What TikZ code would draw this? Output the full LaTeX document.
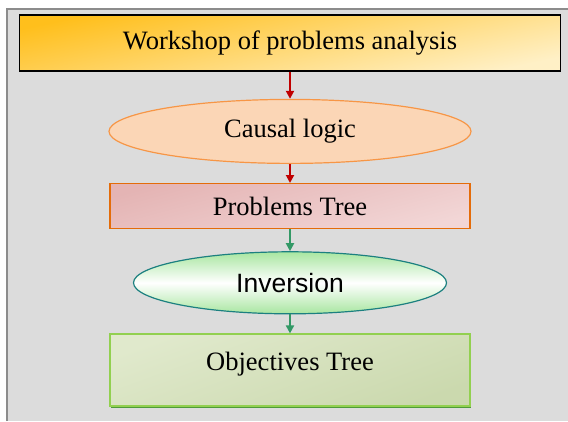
\documentclass[tikz,border=0pt]{standalone}
\usepackage{fontspec}
\setmainfont{Liberation Serif}
\setsansfont{Liberation Sans}
\usetikzlibrary{arrows.meta,positioning,shapes.geometric,shadows}
\definecolor{PanelGray}{HTML}{DCDCDC}
\definecolor{PanelEdge}{HTML}{8C8C8C}
\definecolor{FlowRed}{HTML}{C00000}
\definecolor{FlowGreen}{HTML}{339966}
\definecolor{GoldDark}{HTML}{FFBF1C}
\definecolor{GoldLight}{HTML}{FFF0C6}
\definecolor{PeachFill}{HTML}{FBD6B6}
\definecolor{PeachEdge}{HTML}{F79646}
\definecolor{RoseDark}{HTML}{E4B4B4}
\definecolor{RoseLight}{HTML}{F2D6D6}
\definecolor{RoseEdge}{HTML}{E46C0A}
\definecolor{MintFill}{HTML}{A8E6A0}
\definecolor{TealEdge}{HTML}{1C8080}
\definecolor{LeafLight}{HTML}{E0E9CC}
\definecolor{LeafDark}{HTML}{CBD9AE}
\definecolor{LeafEdge}{HTML}{92D050}
\definecolor{LeafShadow}{HTML}{4E9A3A}

\begin{document}
\begin{tikzpicture}[x=1pt,y=1pt,
  node distance=19pt,
  font=\fontsize{26.5}{30}\selectfont,
  taller/.style={rectangle,draw=black,line width=1.6pt,minimum width=541pt,minimum height=56pt,
    top color=GoldDark,bottom color=GoldLight,shading angle=12},
  logica/.style={ellipse,draw=PeachEdge,line width=1.2pt,fill=PeachFill,
    minimum width=362pt,minimum height=64pt,inner sep=0pt},
  arbol/.style={rectangle,draw=RoseEdge,line width=1.2pt,minimum width=360pt,minimum height=45pt,
    top color=RoseDark,bottom color=RoseLight,shading angle=15},
  inversa/.style={ellipse,draw=TealEdge,line width=1.2pt,minimum width=313pt,minimum height=62pt,
    inner sep=0pt,top color=MintFill,bottom color=MintFill,middle color=white,
    font=\sffamily\fontsize{26.5}{30}\selectfont},
  meta/.style={rectangle,draw=LeafEdge,line width=1.6pt,minimum width=360pt,minimum height=72pt,
    text height=27pt,text depth=27pt,inner ysep=9pt,
    top color=LeafLight,bottom color=LeafDark,shading angle=20,
    drop shadow={shadow xshift=1pt,shadow yshift=-2pt,fill=LeafShadow,opacity=1}},
  flecha/.style={-{Triangle[length=8pt,width=8pt]},line width=1.9pt}
]
\useasboundingbox (0,0) rectangle (568,-421);
% background panel
\fill[PanelGray] (7,-9) rectangle (568,-421);
\draw[PanelEdge,line width=1.2pt] (7,-421) -- (7,-9) -- (568,-9);

\node[taller] (taller) at (290,-43) {Workshop of problems analysis};
\node[logica,below=27pt of taller] (causal) {Causal logic};
\node[arbol,below=of causal] (problemas) {Problems Tree};
\node[inversa,below=22pt of problemas] (inversion) {Inversion};
\node[meta,below=of inversion] (objetivos) {Objectives Tree};

\foreach \a/\b in {taller/causal,causal/problemas}
  \draw[flecha,FlowRed] (\a) -- (\b);
\foreach \a/\b in {problemas/inversion,inversion/objetivos}
  \draw[flecha,FlowGreen] (\a) -- (\b);
\end{tikzpicture}
\end{document}
